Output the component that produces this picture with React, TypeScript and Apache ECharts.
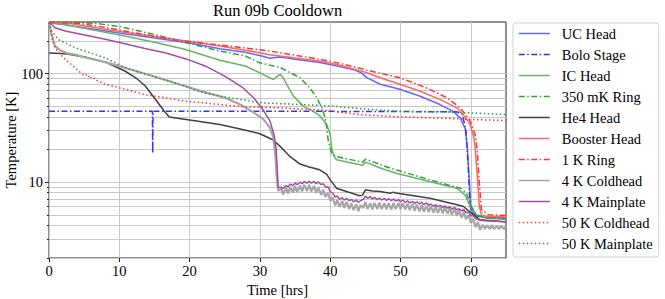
import React, { useEffect, useRef } from "react";
import * as echarts from "echarts";

type P = [number, number];

const ucHead: P[] = [
  [0, 296], [2, 285], [5, 265], [10, 238], [15, 214], [20, 192], [24.3, 170], [27.9, 158],
  [30, 147], [31.4, 139], [32.2, 141], [32.9, 143], [35, 136], [38.5, 127], [41, 118],
  [43.5, 108], [44.4, 102], [45.2, 92], [47.1, 80], [49.9, 72], [52.8, 62], [55.6, 52], [57.5, 45],
  [58.5, 39], [59.2, 31], [59.5, 21], [59.8, 10], [60, 5.6], [60.6, 5.0], [61.8, 4.75], [65, 4.65],
];
const boloStage: P[] = [
  [0, 45], [14.7, 45], [14.75, 18.5], [14.8, 45], [40, 45], [58, 44.6], [58.8, 42], [59.3, 30],
  [59.6, 15], [59.9, 6], [60.3, 5], [62, 4.7], [65, 4.65],
];
const icHead: P[] = [
  [0, 296], [2.3, 285], [5, 262], [10.8, 223], [15, 195], [19.3, 168], [24.3, 133], [27.9, 118],
  [30, 102], [31.9, 88.5], [32.5, 95], [32.9, 98.6], [33.3, 92], [33.8, 80], [34.8, 62],
  [36.2, 50], [37.6, 45], [38.5, 41], [39.5, 34], [40, 27.5], [40.2, 20.7], [40.5, 17.5],
  [40.9, 16.1], [44.2, 14.5], [44.6, 14.3], [45, 15.3], [45.4, 15], [47.1, 13.5], [49.4, 12.1],
  [54.2, 10.1], [58, 8.8], [59.2, 7.6], [59.9, 6.0], [60.8, 5.0], [62.3, 4.66], [65, 4.55],
];
const ring350mK: P[] = [
  [0, 298], [4, 297], [6.8, 290], [10, 273], [15, 230], [20, 190], [24.3, 162], [27.9, 146],
  [30, 126], [32.9, 114], [35.7, 92], [37.1, 74], [38.1, 60], [38.8, 48.5], [39.3, 39],
  [39.5, 31.6], [39.7, 24.5], [40.2, 18.5], [40.9, 17.2], [44.2, 15.5], [44.6, 15.3], [45, 16.3],
  [45.4, 16], [48.5, 13.5], [54.2, 10.5], [58.5, 8.8], [59.4, 7.9], [59.9, 6.2], [60.8, 5.0],
  [62, 4.7], [65, 4.6],
];
const he4Head: P[] = [
  [0, 155], [2.3, 153], [5.1, 143], [8, 128], [10.8, 106], [12.5, 90], [13.7, 77], [15.5, 54],
  [16.3, 46], [17.1, 40], [20, 37.5], [24.3, 34], [27.2, 31], [30, 28], [31.9, 24.5], [32.9, 21.3],
  [34.3, 17.2], [35.7, 14.7], [37, 13.8], [38.5, 13], [39.5, 11.8], [40, 10.5], [40.9, 8.8],
  [42.3, 8.2], [44.2, 7.5], [44.6, 7.6], [45, 8.5], [46, 8.3], [47.1, 8.2], [48.5, 7.9], [49, 8.1],
  [49.3, 7.95], [54.2, 7.1], [58.9, 6.0], [60.4, 5.0], [61.3, 4.5], [65, 4.3],
];
const boosterHead: P[] = [
  [0, 298], [3, 290], [6, 270], [10, 245], [15, 220], [20, 198], [24.3, 180], [27.9, 165],
  [31.4, 150], [35, 140], [38.5, 131], [42, 117], [45.2, 102], [47.1, 92], [49.9, 80],
  [52.8, 69], [55.6, 58], [58, 48.5], [58.9, 42], [59.9, 34], [60.4, 26], [60.6, 21], [60.9, 12],
  [61.2, 6], [61.5, 5.0], [62.3, 4.8], [65, 4.8],
];
const ring1K: P[] = [
  [0, 298], [4, 292], [8, 268], [12, 240], [18, 205], [24.3, 184], [27.9, 173], [31.4, 162],
  [35, 148], [38.5, 136], [42, 122], [45.2, 108], [49.9, 92], [53.7, 74], [56.6, 60], [58.5, 48.5],
  [59.9, 36.6], [60.6, 27.5], [60.9, 20], [61.2, 10], [61.5, 5.6], [62.5, 5.0], [65, 4.95],
];
const coldhead4K: P[] = [
  [0, 296], [0.3, 240], [0.85, 180], [1.6, 165], [2.5, 155], [3.7, 150], [5, 142], [8, 128],
  [10.1, 117], [13.7, 100], [16.5, 88], [19.3, 77], [22, 68], [25, 60], [27.2, 52], [29.1, 44],
  [30.5, 38], [31.4, 32], [31.9, 26], [32.2, 18], [32.4, 11], [32.6, 8.3],
  [33.0, 8.8], [33.3, 7.7], [33.7, 8.9], [34.0, 7.85], [34.3, 9.05], [34.7, 8.0], [35.0, 9.2],
  [35.3, 8.1], [35.7, 9.3], [36.0, 8.2], [36.3, 9.45], [36.7, 8.3], [37.0, 9.45], [37.3, 8.2],
  [37.7, 9.25], [38.0, 7.95], [38.3, 8.95], [38.7, 7.65], [39.0, 8.55], [39.3, 7.3], [39.7, 8.0],
  [40.0, 6.7], [40.3, 7.3], [40.7, 6.1], [41.0, 6.85], [41.3, 5.95], [41.7, 6.7], [42.0, 5.8],
  [42.3, 6.6], [42.7, 5.65], [43.0, 6.4], [43.3, 5.55], [43.7, 6.25], [44.0, 5.4], [44.3, 6.15],
  [44.7, 5.8], [45.0, 6.6], [45.3, 5.65], [45.7, 6.4], [46.0, 5.6], [46.3, 6.45], [46.7, 5.65],
  [47.0, 6.5], [47.3, 5.65], [47.7, 6.4], [48.0, 5.6], [48.3, 6.4], [48.7, 5.6], [49.0, 6.45],
  [49.3, 5.65], [49.7, 6.45], [50.0, 5.65], [50.3, 6.4], [50.7, 5.6], [51.0, 6.35], [51.3, 5.55],
  [51.7, 6.3], [52.0, 5.45], [52.3, 6.2], [52.7, 5.4], [53.0, 6.15], [53.3, 5.35], [53.7, 6.05],
  [54.0, 5.3], [54.3, 6.0], [54.7, 5.25], [55.0, 6.0], [55.3, 5.2], [55.7, 5.9], [56.0, 5.15],
  [56.3, 5.85], [56.7, 5.1], [57.0, 5.8], [57.3, 5.0], [57.7, 5.65], [58.0, 4.9], [58.3, 5.5],
  [58.7, 4.7], [59.0, 5.35], [59.3, 4.55], [59.7, 5.0], [60.0, 4.2], [60.3, 4.6], [60.7, 3.85],
  [61.0, 4.3], [61.3, 3.65], [61.7, 4.05], [62.0, 3.7], [62.3, 4.0], [62.7, 3.7], [63.0, 4.0],
  [63.3, 3.7], [63.7, 3.95], [64.0, 3.7], [64.3, 3.95], [64.7, 3.7], [65.0, 3.95],
];
const mainplate4K: P[] = [
  [0, 296], [0.5, 280], [0.85, 266], [2.3, 248], [5.1, 228], [8, 208], [10.8, 189], [13.5, 172],
  [16.5, 156], [19.5, 137], [22.2, 118], [25, 95], [27.5, 75], [29.1, 60], [30.5, 46],
  [31.4, 37], [32, 27.5], [32.3, 20.7], [32.5, 12], [32.6, 9.0],
  [33.0, 9.0], [33.3, 8.8], [33.7, 9.3], [34.0, 9.05], [34.3, 9.6], [34.7, 9.3], [35.0, 9.8],
  [35.3, 9.5], [35.7, 10.0], [36.0, 9.7], [36.3, 10.15], [36.7, 9.8], [37.0, 10.2], [37.3, 9.8],
  [37.7, 10.15], [38.0, 9.7], [38.3, 10.05], [38.7, 9.5], [39.0, 9.7], [39.3, 9.05], [39.7, 9.1],
  [40.0, 8.15], [40.3, 8.0], [40.7, 7.3], [41.0, 7.45], [41.3, 7.0], [41.7, 7.2], [42.0, 6.85],
  [42.3, 7.1], [42.7, 6.75], [43.0, 6.95], [43.3, 6.6], [43.7, 6.85], [44.0, 6.5], [44.3, 6.75],
  [44.7, 6.95], [45.0, 7.45], [45.3, 7.1], [45.7, 7.35], [46.0, 7.0], [46.3, 7.25], [46.7, 6.9],
  [47.0, 7.15], [47.3, 6.85], [47.7, 7.1], [48.0, 6.8], [48.3, 7.05], [48.7, 6.75], [49.0, 7.0],
  [49.3, 6.7], [49.7, 6.9], [50.0, 6.6], [50.3, 6.85], [50.7, 6.5], [51.0, 6.75], [51.3, 6.45],
  [51.7, 6.65], [52.0, 6.35], [52.3, 6.6], [52.7, 6.3], [53.0, 6.55], [53.3, 6.2], [53.7, 6.45],
  [54.0, 6.1], [54.3, 6.3], [54.7, 6.0], [55.0, 6.2], [55.3, 5.95], [55.7, 6.1], [56.0, 5.85],
  [56.3, 6.05], [56.7, 5.75], [57.0, 5.95], [57.3, 5.65], [57.7, 5.85], [58.0, 5.55], [58.3, 5.7],
  [58.7, 5.45], [59.0, 5.6], [59.3, 5.25], [59.7, 5.3], [60.0, 4.9], [60.3, 4.9], [60.7, 4.6],
  [61.0, 4.55], [61.3, 4.45], [62, 4.4], [63, 4.38], [64, 4.36], [65, 4.35],
];
const coldhead50K: P[] = [
  [0, 296], [0.15, 285], [0.4, 215], [0.85, 174], [1.6, 151], [2.3, 136], [3.7, 114], [4.5, 102],
  [5.1, 96], [5.5, 99], [5.8, 90], [6.2, 94], [6.6, 88], [8, 80], [10.8, 72], [13.7, 64],
  [16.5, 60], [19.3, 56], [25, 51.5], [27.9, 49.5], [32.9, 48.5], [38.5, 46.5], [44.2, 42],
  [49.9, 40], [55.6, 39], [59.9, 37.9], [65, 37],
];
const mainplate50K: P[] = [
  [0, 296], [0.2, 270], [0.4, 248], [1.3, 207], [2.3, 193], [3.7, 174], [5.1, 162], [8, 140],
  [10.8, 114], [13.7, 99], [19.3, 77], [21.5, 68], [25, 61], [27.9, 57], [30, 54], [35.7, 52],
  [40, 50.5], [45.7, 46.8], [49.9, 45], [55.6, 44.6], [59.9, 43.6], [65, 42],
];

const xTicks = [0, 10, 20, 30, 40, 50, 60];
const yMajorTicks = [10, 100];
const yMinorTicks = [2, 3, 4, 5, 6, 7, 8, 9, 20, 30, 40, 50, 60, 70, 80, 90, 200];

const DASHDOT = [6, 2.5, 1.5, 2.5];
const DOTTED = [1.5, 2.5];

const seriesDefs = [
  { name: "UC Head", data: ucHead, color: "#6666ff", dash: "solid" as any, width: 1.5 },
  { name: "Bolo Stage", data: boloStage, color: "#3333ff", dash: DASHDOT, width: 1.5 },
  { name: "IC Head", data: icHead, color: "#66b366", dash: "solid" as any, width: 1.5 },
  { name: "350 mK Ring", data: ring350mK, color: "#33a033", dash: DASHDOT, width: 1.5 },
  { name: "He4 Head", data: he4Head, color: "#404040", dash: "solid" as any, width: 1.5 },
  { name: "Booster Head", data: boosterHead, color: "#ff6666", dash: "solid" as any, width: 1.5 },
  { name: "1 K Ring", data: ring1K, color: "#ff3333", dash: DASHDOT, width: 1.5 },
  { name: "4 K Coldhead", data: coldhead4K, color: "#a6a6a6", dash: "solid" as any, width: 2.2 },
  { name: "4 K Mainplate", data: mainplate4K, color: "#a64ca6", dash: "solid" as any, width: 1.5 },
  { name: "50 K Coldhead", data: coldhead50K, color: "#ff3333", dash: DOTTED, width: 1.5 },
  { name: "50 K Mainplate", data: mainplate50K, color: "#339a33", dash: DOTTED, width: 1.5 },
];

const FONT = "'Liberation Serif', 'Times New Roman', Times, 'DejaVu Serif', serif";

export default function App() {
  const ref = useRef<HTMLDivElement>(null);
  useEffect(() => {
    if (!ref.current) return;
    const chart = echarts.init(ref.current, null, { renderer: "svg" });
    const gridLine = { show: true, lineStyle: { color: "#c8c8c8", width: 1 } };
    chart.setOption({
      animation: false,
      backgroundColor: "#fff",
      textStyle: { fontFamily: FONT },
      title: {
        text: "Run 09b Cooldown",
        left: 277.5,
        top: 2,
        textAlign: "center",
        padding: 0,
        textStyle: { fontFamily: FONT, fontSize: 16.5, fontWeight: "normal", color: "#000" },
      },
      graphic: [
        {
          type: "text",
          x: 11,
          y: 140,
          rotation: Math.PI / 2,
          style: {
            text: "Temperature [K]",
            fontFamily: FONT,
            fontSize: 14.5,
            fill: "#000",
            align: "center",
            verticalAlign: "middle",
          },
        },
      ],
      grid: {
        left: 49, right: 159, top: 22, bottom: 41,
        containLabel: false,
        outerBoundsMode: "none",
        show: true, borderColor: "#222", borderWidth: 1, backgroundColor: "transparent",
      },
      legend: {
        orient: "vertical",
        left: 513,
        top: 23,
        padding: [2, 6, 5, 5],
        itemGap: 4,
        itemWidth: 31,
        itemHeight: 14,
        backgroundColor: "#fff",
        borderColor: "#d0d0d0",
        borderWidth: 1,
        borderRadius: 3,
        itemStyle: { opacity: 0, borderWidth: 0 },
        lineStyle: { width: 1.5 },
        textStyle: { fontFamily: FONT, fontSize: 14.5, color: "#000", lineHeight: 17, padding: [0, 0, 0, 7] },
        data: seriesDefs.map((s) => s.name),
      },
      xAxis: {
        type: "value",
        min: 0,
        max: 65,
        interval: 10,
        axisLine: { show: false },
        axisTick: { show: true, customValues: xTicks, length: 4, lineStyle: { color: "#222" } },
        axisLabel: { customValues: xTicks, margin: 5, fontFamily: FONT, fontSize: 14.5, color: "#000" },
        splitLine: gridLine,
        name: "Time [hrs]",
        nameLocation: "middle",
        nameGap: 20,
        nameTextStyle: { fontFamily: FONT, fontSize: 14.5, color: "#000" },
      },
      yAxis: [
        {
          type: "log",
          logBase: 10,
          min: 2,
          max: 300,
          position: "left",
          axisLine: { show: false },
          axisTick: { show: true, customValues: yMajorTicks, length: 4, lineStyle: { color: "#222" } },
          axisLabel: { customValues: yMajorTicks, margin: 6, fontFamily: FONT, fontSize: 14.5, color: "#000" },
          splitLine: gridLine,
        },
        {
          type: "log",
          logBase: 10,
          min: 2,
          max: 300,
          position: "left",
          offset: 0,
          axisLine: { show: false },
          axisTick: { show: true, customValues: yMinorTicks, length: 2, lineStyle: { color: "#222" } },
          axisLabel: { show: false },
          splitLine: gridLine,
        },
      ],
      series: seriesDefs.map((s) => ({
        name: s.name,
        type: "line",
        data: s.data,
        yAxisIndex: 0,
        symbol: "none",
        showSymbol: false,
        smooth: false,
        color: s.color,
        lineStyle: { color: s.color, width: s.width, type: s.dash },
        itemStyle: { color: s.color },
        emphasis: { disabled: true },
      })),
    });
    return () => chart.dispose();
  }, []);
  return (
    <div
      ref={ref}
      style={{ position: "fixed", left: 0, top: 0, width: 665, height: 299, background: "#fff" }}
    />
  );
}
